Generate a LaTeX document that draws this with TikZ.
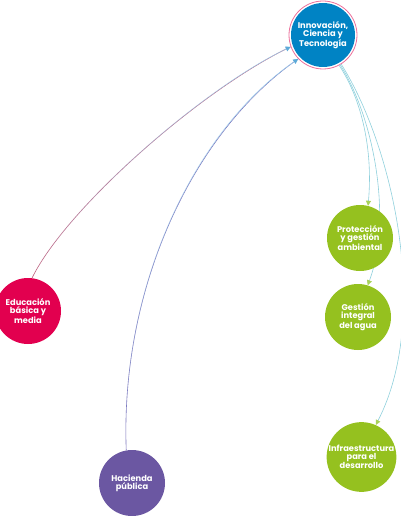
\documentclass[tikz,border=0pt]{standalone}
\usepackage{fontspec}
\setmainfont{Poppins}
\usetikzlibrary{arrows.meta,fadings}
\definecolor{innblue}{HTML}{0083C4}
\definecolor{ringpink}{HTML}{EC6F9A}
\definecolor{educred}{HTML}{E2004F}
\definecolor{hacpurple}{HTML}{6B57A2}
\definecolor{ejegreen}{HTML}{95C11F}
\definecolor{linkcyan}{HTML}{8FD0DC}
\definecolor{tipgreen}{HTML}{A8D25A}
\definecolor{tipblue}{HTML}{5BAAD9}
\definecolor{edubottom}{HTML}{C0607E}
\definecolor{hacbottom}{HTML}{7C74BC}
\definecolor{linkblue}{HTML}{9CCDEB}
\begin{document}
\begin{tikzpicture}[x=1pt,y=-1pt,
  eje/.style={circle, fill=#1, minimum size=66pt, inner sep=0pt, text=white,
    align=center, font=\fontsize{8.3}{8}\selectfont\bfseries},
  hub/.style={circle, minimum size=68pt, inner sep=0pt, draw=ringpink, line width=0.8pt,
    fill=white, text=white, align=center, font=\fontsize{8.3}{8}\selectfont\bfseries,
    path picture={\fill[innblue] (path picture bounding box.center) circle (32pt);}},
  greenlink/.style={line width=0.6pt, draw=linkcyan,
    -{Triangle[length=5pt,width=5pt,color=tipgreen,fill=tipgreen]}},
  bluetip/.style={-{Triangle[length=5pt,width=5pt,color=tipblue,fill=tipblue]}},
  thin/.style={line width=0.6pt}]
\useasboundingbox (0,0) rectangle (400,516);
\node[hub] (inn) at (323,35) {Innovación,\\Ciencia y\\Tecnología};
\node[eje=educred] (edu) at (28,311) {Educación\\básica y\\media};
\node[eje=hacpurple] (hac) at (132,483) {Hacienda\\pública};
\node[eje=ejegreen] (gest) at (358,317) {Gestión\\integral\\del agua};
\node[eje=ejegreen] (infra) at (361.5,457) {Infraestructura\\para el\\desarrollo};
% links behind protección
\draw[greenlink] (inn.300) .. controls (375,120) and (392,220) .. (gest.73);
\draw[greenlink] (inn.302) .. controls (395,150) and (430,320) .. (infra.66);
\node[eje=ejegreen] (prot) at (360,238) {Protección\\y gestión\\ambiental};
\draw[greenlink] (inn.298) .. controls (362,100) and (373,150) .. (prot.76);
% incoming links
\draw[thin, edubottom] (edu.83) .. controls (65,210) and (200,90) .. (inn.200);
\draw[thin, linkblue, path fading=south, bluetip] (edu.83) .. controls (65,210) and (200,90) .. (inn.200);
\draw[thin, hacbottom] (hac.100) .. controls (120,285) and (195,130) .. (inn.224);
\draw[thin, linkblue, path fading=south, bluetip] (hac.100) .. controls (120,285) and (195,130) .. (inn.224);
\end{tikzpicture}
\end{document}
